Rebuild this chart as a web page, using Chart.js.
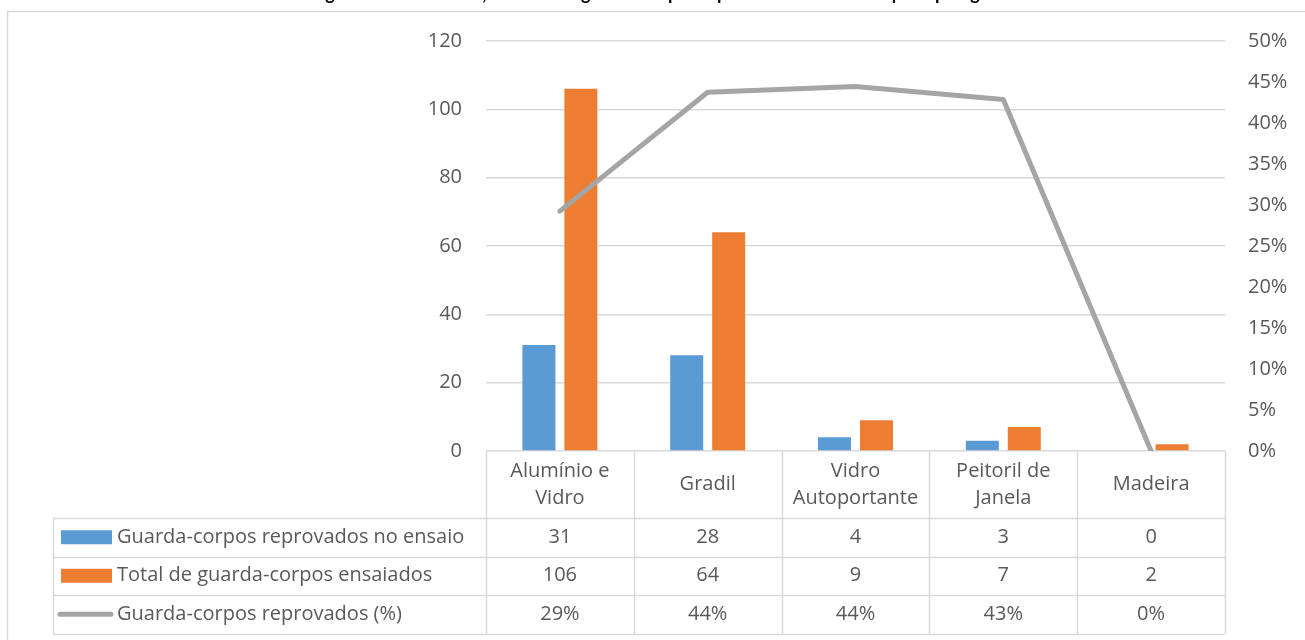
<!DOCTYPE html>
<html lang="pt">
<head>
<meta charset="utf-8">
<title>Guarda-corpos reprovados por tipologia</title>
<script src="https://cdn.jsdelivr.net/npm/chart.js@4.4.1/dist/chart.umd.min.js"></script>
<style>
  html, body { margin: 0; padding: 0; background: #ffffff; }
  #wrap { width: 1305px; height: 640px; position: relative; }
</style>
</head>
<body>
<div id="wrap"><canvas id="chart" width="1305" height="640"></canvas></div>
<script>
// Tipologias (rótulos em duas linhas quando necessário)
const categories = [
  ['Alumínio e', 'Vidro'],
  ['Gradil'],
  ['Vidro', 'Autoportante'],
  ['Peitoril de', 'Janela'],
  ['Madeira']
];
const seriesNames = [
  'Guarda-corpos reprovados no ensaio',
  'Total de guarda-corpos ensaiados',
  'Guarda-corpos reprovados (%)'
];
const reprovados = [31, 28, 4, 3, 0];
const ensaiados = [106, 64, 9, 7, 2];
const reprovadosPct = [0.2925, 0.4375, 0.4444, 0.4286, 0];
const countTicks = [0, 20, 40, 60, 80, 100, 120];
const pctTicks = [0, 0.05, 0.10, 0.15, 0.20, 0.25, 0.30, 0.35, 0.40, 0.45, 0.50];
const titleText = 'Figura 6 – Resultados, número de guarda-corpos reprovados nos ensaios por tipologia';

const FONT = '"Open Sans", Lato, sans-serif';
const FONT_SIZE = 20;
const TEXT = '#595959';
const GRID = '#D9D9D9';
const BLUE = '#5B9BD5';
const ORANGE = '#ED7D31';
const GRAY = '#A5A5A5';

const pctLabel = v => Math.round(v * 100) + '%';

// Moldura do gráfico e título (recortado na borda superior)
const framePlugin = {
  id: 'frame',
  beforeDraw(chart) {
    const ctx = chart.ctx;
    ctx.save();
    ctx.fillStyle = '#ffffff';
    ctx.fillRect(0, 0, chart.width, chart.height);
    ctx.strokeStyle = GRID;
    ctx.lineWidth = 1.5;
    ctx.strokeRect(7.5, 11.5, chart.width + 20, chart.height + 20);
    ctx.fillStyle = '#000000';
    ctx.font = 'bold 18px Lato, sans-serif';
    ctx.textAlign = 'center';
    ctx.textBaseline = 'alphabetic';
    ctx.fillText(titleText, 652, -0.5);
    ctx.restore();
  }
};

// Tabela de dados sob o eixo das categorias
const tablePlugin = {
  id: 'dataTable',
  afterDraw(chart) {
    const ctx = chart.ctx;
    const x = chart.scales.x;
    const area = chart.chartArea;
    const n = categories.length;
    const colW = (area.right - area.left) / n;
    const top = area.bottom;
    const headerBottom = top + 67;
    const rowH = 38.5;
    const rows = [headerBottom, headerBottom + rowH, headerBottom + 2 * rowH, headerBottom + 3 * rowH];
    const legendLeft = 53;

    ctx.save();
    ctx.strokeStyle = GRID;
    ctx.lineWidth = 1.5;
    ctx.beginPath();
    // linhas verticais das colunas
    for (let i = 0; i <= n; i++) {
      const cx = Math.round(area.left + i * colW) + 0.5;
      ctx.moveTo(cx, top);
      ctx.lineTo(cx, rows[3]);
    }
    // borda esquerda da coluna de legenda
    ctx.moveTo(legendLeft + 0.5, rows[0]);
    ctx.lineTo(legendLeft + 0.5, rows[3]);
    // linhas horizontais
    rows.forEach(ry => {
      const yy = Math.round(ry) + 0.5;
      ctx.moveTo(legendLeft, yy);
      ctx.lineTo(area.right, yy);
    });
    ctx.stroke();

    ctx.fillStyle = TEXT;
    ctx.font = FONT_SIZE + 'px ' + FONT;
    ctx.textAlign = 'center';
    ctx.textBaseline = 'middle';
    // cabeçalho das categorias
    categories.forEach((lines, i) => {
      const cx = x.getPixelForValue(i);
      const mid = (top + headerBottom) / 2;
      const lh = 27;
      lines.forEach((t, k) => {
        const yy = mid + (k - (lines.length - 1) / 2) * lh;
        ctx.fillText(t, cx, yy);
      });
    });

    // valores
    const tableRows = [
      reprovados.map(String),
      ensaiados.map(String),
      reprovadosPct.map(pctLabel)
    ];
    tableRows.forEach((vals, r) => {
      const cy = (rows[r] + rows[r + 1]) / 2;
      vals.forEach((v, i) => {
        ctx.fillText(v, x.getPixelForValue(i), cy);
      });
    });

    // legenda
    ctx.textAlign = 'left';
    seriesNames.forEach((name, r) => {
      const cy = (rows[r] + rows[r + 1]) / 2;
      if (r < 2) {
        ctx.fillStyle = r === 0 ? BLUE : ORANGE;
        ctx.fillRect(61, cy - 7, 51, 14);
      } else {
        ctx.strokeStyle = GRAY;
        ctx.lineWidth = 5;
        ctx.lineCap = 'round';
        ctx.beginPath();
        ctx.moveTo(60, cy);
        ctx.lineTo(111, cy);
        ctx.stroke();
      }
      ctx.fillStyle = TEXT;
      ctx.fillText(name, 117, cy);
    });
    ctx.restore();
  }
};

new Chart(document.getElementById('chart'), {
  data: {
    labels: categories,
    datasets: [
      {
        type: 'bar',
        label: seriesNames[0],
        data: reprovados,
        backgroundColor: BLUE,
        yAxisID: 'y',
        order: 2,
        categoryPercentage: 0.568,
        barPercentage: 0.786
      },
      {
        type: 'bar',
        label: seriesNames[1],
        data: ensaiados,
        backgroundColor: ORANGE,
        yAxisID: 'y',
        order: 2,
        categoryPercentage: 0.568,
        barPercentage: 0.786
      },
      {
        type: 'line',
        label: seriesNames[2],
        data: reprovadosPct,
        borderColor: GRAY,
        borderWidth: 5,
        borderJoinStyle: 'round',
        borderCapStyle: 'round',
        pointRadius: 0,
        tension: 0,
        fill: false,
        yAxisID: 'y1',
        order: 0
      }
    ]
  },
  options: {
    responsive: false,
    animation: false,
    layout: { padding: { top: 41, bottom: 189, left: 0, right: 0 } },
    plugins: {
      legend: { display: false },
      title: { display: false },
      tooltip: { enabled: false }
    },
    scales: {
      x: {
        display: false,
        offset: true
      },
      y: {
        position: 'left',
        min: 0,
        max: 120,
        afterFit(scale) { scale.width = 486; },
        afterBuildTicks(scale) { scale.ticks = countTicks.map(v => ({ value: v })); },
        border: { display: false },
        grid: { color: GRID, lineWidth: 1.5, drawTicks: false },
        ticks: {
          padding: 24,
          color: TEXT,
          font: { family: FONT, size: FONT_SIZE }
        }
      },
      y1: {
        position: 'right',
        min: 0,
        max: 0.5,
        afterFit(scale) { scale.width = 80; },
        afterBuildTicks(scale) { scale.ticks = pctTicks.map(v => ({ value: v })); },
        border: { display: false },
        grid: { display: false, drawTicks: false },
        ticks: {
          padding: 23,
          color: TEXT,
          font: { family: FONT, size: FONT_SIZE },
          callback: v => pctLabel(v)
        }
      }
    }
  },
  plugins: [framePlugin, tablePlugin]
});
</script>
</body>
</html>
